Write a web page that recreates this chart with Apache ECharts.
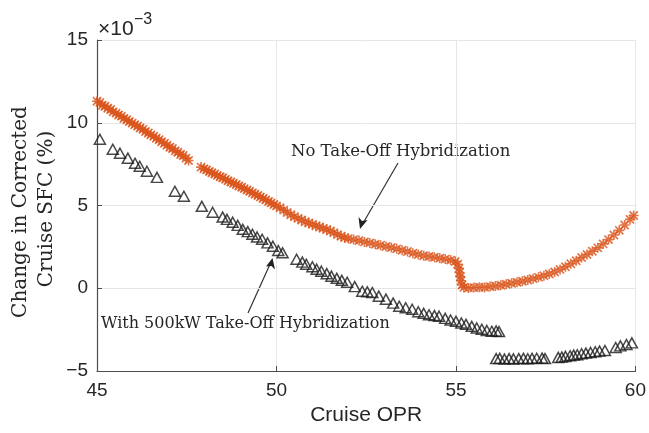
<!DOCTYPE html>
<html>
<head>
<meta charset="utf-8">
<script src="https://cdn.jsdelivr.net/npm/echarts@6/dist/echarts.min.js"></script>
<style>
  html, body { margin: 0; padding: 0; background: #ffffff; }
  #chart { width: 649px; height: 433px; }
</style>
</head>
<body>
<div id="chart"></div>
<script>
// Cruise OPR vs. change in corrected cruise SFC (values in units of 1e-3 %)
const noHybOPR = [
  45.00, 45.08, 45.15, 45.22, 45.30, 45.38, 45.45, 45.53, 45.60, 45.68,
  45.75, 45.83, 45.90, 45.98, 46.05, 46.13, 46.20, 46.28, 46.35, 46.43,
  46.50, 46.58, 46.65, 46.73, 46.80, 46.88, 46.95, 47.03, 47.10, 47.18,
  47.25, 47.33, 47.40, 47.48, 47.55,
  47.90, 47.98, 48.05, 48.13, 48.20, 48.28, 48.35, 48.43, 48.50, 48.58,
  48.65, 48.73, 48.80, 48.88, 48.95, 49.03, 49.10, 49.18, 49.25, 49.33,
  49.40, 49.48, 49.55, 49.63, 49.70, 49.78, 49.85, 49.93, 50.00, 50.10,
  50.20, 50.30, 50.40, 50.50, 50.60, 50.70, 50.80, 50.90, 51.00, 51.10,
  51.20, 51.30, 51.40, 51.50, 51.60, 51.70, 51.80, 51.90, 52.00, 52.15,
  52.30, 52.45, 52.60, 52.75, 52.90, 53.05, 53.20, 53.35, 53.50, 53.65,
  53.80, 53.95, 54.10, 54.25, 54.40, 54.55, 54.70, 54.85, 54.98, 55.05,
  55.08, 55.10, 55.12, 55.14, 55.17, 55.22, 55.35, 55.50, 55.65, 55.80,
  55.95, 56.10, 56.25, 56.40, 56.55, 56.70, 56.85, 57.00, 57.15, 57.30,
  57.45, 57.60, 57.75, 57.90, 58.05, 58.20, 58.35, 58.50, 58.65, 58.80,
  58.95, 59.10, 59.25, 59.40, 59.55, 59.70, 59.85, 59.95
];
const noHybSFC = [
  11.30, 11.22, 11.05, 11.00, 10.88, 10.80, 10.66, 10.58, 10.47, 10.40,
  10.26, 10.18, 10.08, 9.98, 9.88, 9.80, 9.68, 9.60, 9.47, 9.38,
  9.27, 9.18, 9.06, 8.98, 8.85, 8.76, 8.64, 8.52, 8.44, 8.30,
  8.22, 8.08, 8.02, 7.86, 7.72,
  7.32, 7.22, 7.15, 7.05, 6.98, 6.90, 6.82, 6.74, 6.68, 6.58,
  6.50, 6.42, 6.34, 6.27, 6.18, 6.10, 6.02, 5.94, 5.86, 5.76,
  5.68, 5.60, 5.52, 5.42, 5.34, 5.24, 5.16, 5.06, 4.98, 4.86,
  4.72, 4.58, 4.44, 4.32, 4.22, 4.12, 4.02, 3.94, 3.86, 3.78,
  3.70, 3.62, 3.55, 3.46, 3.36, 3.24, 3.14, 3.06, 3.00, 2.94,
  2.88, 2.80, 2.74, 2.66, 2.60, 2.52, 2.46, 2.38, 2.30, 2.22,
  2.12, 2.04, 1.96, 1.92, 1.87, 1.82, 1.76, 1.70, 1.62, 1.45,
  1.20, 0.95, 0.70, 0.45, 0.20, 0.05, 0.02, 0.04, 0.06, 0.05,
  0.10, 0.14, 0.18, 0.24, 0.30, 0.36, 0.42, 0.50, 0.58, 0.66,
  0.76, 0.86, 0.98, 1.14, 1.30, 1.48, 1.66, 1.86, 2.04, 2.24,
  2.44, 2.68, 2.94, 3.22, 3.50, 3.82, 4.16, 4.40
];

const hybOPR = [
  45.08, 45.44, 45.64, 45.86, 46.06, 46.19, 46.39, 46.67, 47.17, 47.42,
  47.92, 48.22, 48.50, 48.62, 48.78, 48.92, 49.06, 49.20, 49.33, 49.46,
  49.60, 49.75, 49.90, 50.05, 50.17, 50.56, 50.72, 50.83, 51.00, 51.12,
  51.25, 51.40, 51.53, 51.68, 51.82, 51.97, 52.18, 52.39, 52.53, 52.67,
  52.85, 53.05, 53.25, 53.42, 53.60, 53.78, 53.95, 54.10, 54.25, 54.40,
  54.53, 54.70, 54.85, 55.00, 55.15, 55.28, 55.44, 55.58, 55.72, 55.86,
  56.00, 56.12, 56.20,
  56.12, 56.22, 56.35, 56.48, 56.60, 56.75, 56.88, 57.00, 57.12, 57.25,
  57.40, 57.48,
  57.85, 57.95, 58.05, 58.18, 58.28, 58.38, 58.50, 58.62, 58.75, 58.88,
  59.00, 59.15,
  59.45, 59.58, 59.75, 59.90
];
const hybSFC = [
  9.00, 8.40, 8.16, 7.86, 7.55, 7.37, 7.07, 6.70, 5.86, 5.56,
  4.95, 4.59, 4.30, 4.16, 3.99, 3.80, 3.56, 3.42, 3.26, 3.10,
  2.96, 2.74, 2.54, 2.28, 2.14, 1.75, 1.58, 1.45, 1.30, 1.15,
  1.03, 0.88, 0.73, 0.60, 0.48, 0.36, 0.10, -0.18, -0.22, -0.26,
  -0.48, -0.66, -0.90, -1.09, -1.18, -1.27, -1.42, -1.52, -1.60, -1.65,
  -1.69, -1.82, -1.92, -2.00, -2.10, -2.18, -2.30, -2.40, -2.48, -2.55,
  -2.60, -2.58, -2.62,
  -4.25, -4.24, -4.28, -4.25, -4.27, -4.25, -4.24, -4.26, -4.24, -4.23,
  -4.22, -4.25,
  -4.18, -4.16, -4.12, -4.08, -4.04, -4.02, -3.96, -3.92, -3.88, -3.84,
  -3.80, -3.76,
  -3.58, -3.48, -3.40, -3.30
];

const xTicks = [45, 50, 55, 60];
const yTicks = [-5, 0, 5, 10, 15];

const noHybPoints = noHybOPR.map((x, i) => [x, noHybSFC[i]]);
const hybPoints = hybOPR.map((x, i) => [x, hybSFC[i]]);

// eight-spoke asterisk marker built from filled bars
const asteriskPath = 'path://M4.2 0 H5.8 V10 H4.2 Z M0 4.2 H10 V5.8 H0 Z ' +
  'M0.3 1.5 L1.5 0.3 L9.7 8.5 L8.5 9.7 Z M8.5 0.3 L9.7 1.5 L1.5 9.7 L0.3 8.5 Z';

const sans = '"Liberation Sans", Arial, sans-serif';
const serif = '"DejaVu Serif", Georgia, serif';
const ink = '#262626';
const minus = v => String(v).replace('-', '\u2212');

const chart = echarts.init(document.getElementById('chart'), null, { renderer: 'canvas' });

chart.setOption({
  animation: false,
  backgroundColor: '#ffffff',
  grid: { left: 97, right: 12, top: 40, bottom: 62 },
  xAxis: {
    type: 'value',
    min: xTicks[0], max: xTicks[xTicks.length - 1], interval: 5,
    name: 'Cruise OPR', nameLocation: 'middle', nameGap: 30,
    nameTextStyle: { fontFamily: sans, fontSize: 21, color: ink },
    axisLine: { show: true, onZero: false, lineStyle: { color: '#4d4d4d', width: 1.2 } },
    axisTick: { show: true, inside: true, length: 5, lineStyle: { color: '#4d4d4d' } },
    axisLabel: { fontFamily: sans, fontSize: 19, color: ink, margin: 10, formatter: minus },
    splitLine: { show: true, lineStyle: { color: '#e6e6e6', width: 1 } }
  },
  yAxis: {
    type: 'value',
    min: yTicks[0], max: yTicks[yTicks.length - 1], interval: 5,
    axisLine: { show: true, onZero: false, lineStyle: { color: '#4d4d4d', width: 1.2 } },
    axisTick: { show: true, inside: true, length: 5, lineStyle: { color: '#4d4d4d' } },
    axisLabel: { fontFamily: sans, fontSize: 19, color: ink, margin: 9, formatter: minus },
    splitLine: { show: true, lineStyle: { color: '#e6e6e6', width: 1 } }
  },
  series: [
    {
      name: 'With 500kW Take-Off Hybridization',
      type: 'scatter',
      data: hybPoints,
      symbol: 'triangle',
      symbolSize: [11, 10],
      itemStyle: { color: 'rgba(0,0,0,0)', borderColor: '#1a1a1a', borderWidth: 1.5 },
      z: 2
    },
    {
      name: 'No Take-Off Hybridization',
      type: 'scatter',
      data: noHybPoints,
      symbol: asteriskPath,
      symbolSize: 10,
      itemStyle: { color: '#D95319' },
      z: 3
    }
  ],
  graphic: [
    // exponent of the y axis
    { type: 'text', x: 98, y: 29,
      style: { text: '\u00d710', font: '21px ' + sans, fill: ink, textAlign: 'left', textVerticalAlign: 'middle' } },
    { type: 'text', x: 134, y: 20,
      style: { text: '\u22123', font: '16px ' + sans, fill: ink, textAlign: 'left', textVerticalAlign: 'middle' } },
    // y axis title, two lines
    { type: 'text', x: 21, y: 212, rotation: Math.PI / 2,
      style: { text: 'Change in Corrected', font: '20px ' + serif, fill: ink, textAlign: 'center', textVerticalAlign: 'middle' } },
    { type: 'text', x: 47, y: 209, rotation: Math.PI / 2,
      style: { text: 'Cruise SFC (%)', font: '20px ' + serif, fill: ink, textAlign: 'center', textVerticalAlign: 'middle' } },
    // annotations with arrows
    { type: 'text', x: 291, y: 152,
      style: { text: 'No Take-Off Hybridization', font: '16.5px ' + serif, fill: ink, textAlign: 'left', textVerticalAlign: 'middle' } },
    { type: 'line', shape: { x1: 398, y1: 163, x2: 362, y2: 225 }, style: { stroke: '#333', lineWidth: 1.2 } },
    { type: 'polygon', shape: { points: [[360, 229], [358.5, 217], [362, 221], [367.5, 220]] }, style: { fill: '#222' } },
    { type: 'text', x: 101, y: 324,
      style: { text: 'With 500kW Take-Off Hybridization', font: '16px ' + serif, fill: ink, textAlign: 'left', textVerticalAlign: 'middle' } },
    { type: 'line', shape: { x1: 248, y1: 313, x2: 271, y2: 262 }, style: { stroke: '#333', lineWidth: 1.2 } },
    { type: 'polygon', shape: { points: [[272.5, 258], [275, 269.5], [271.5, 266], [266, 266.5]] }, style: { fill: '#222' } }
  ]
});
</script>
</body>
</html>
